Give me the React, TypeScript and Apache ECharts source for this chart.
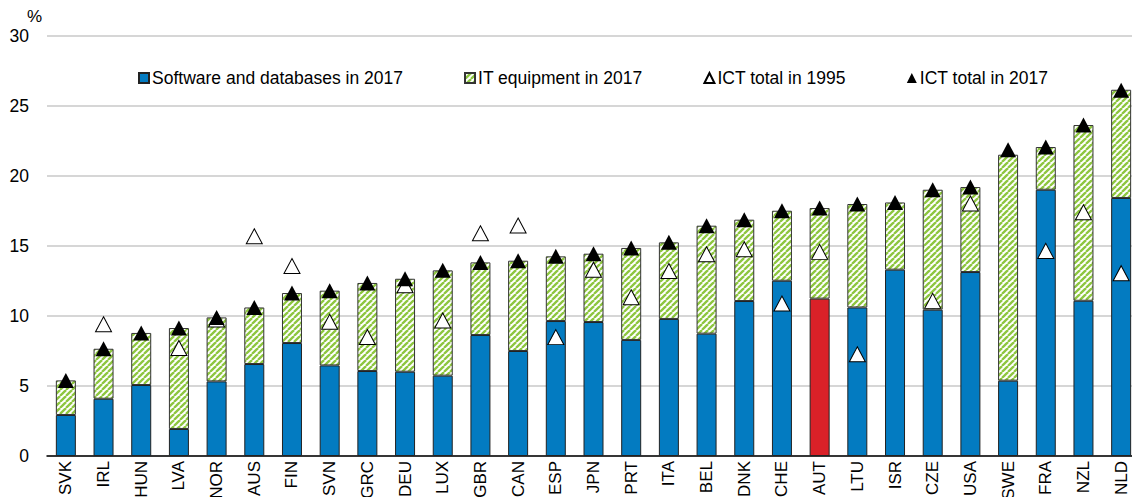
import React, { useEffect, useRef } from "react";
import * as echarts from "echarts";

const categories = ["SVK","IRL","HUN","LVA","NOR","AUS","FIN","SVN","GRC","DEU","LUX","GBR","CAN","ESP","JPN","PRT","ITA","BEL","DNK","CHE","AUT","LTU","ISR","CZE","USA","SWE","FRA","NZL","NLD"];
const software2017 = [2.93,4.09,5.07,1.93,5.33,6.57,8.07,6.47,6.07,6.02,5.74,8.64,7.5,9.64,9.57,8.29,9.79,8.74,11.07,12.52,11.24,10.61,13.31,10.45,13.14,5.38,19.02,11.09,18.43];
const itEquipment2017 = [2.47,3.57,3.72,7.21,4.57,4.04,3.57,5.34,6.29,6.64,7.52,5.19,6.45,4.62,4.88,6.57,5.47,7.71,5.81,5.0,6.47,7.39,4.8,8.57,6.07,16.14,3.05,12.55,7.73];
const ictTotal1995: (number | null)[] = [null,9.41,null,7.72,9.75,15.69,13.57,9.59,8.5,12.2,9.68,15.91,16.46,8.49,13.31,11.34,13.21,14.41,14.77,10.89,14.58,7.27,null,11.08,18.03,null,14.65,17.41,13.06];
const ictTotal2017 = [5.39,7.66,8.79,9.14,9.9,10.61,11.64,11.81,12.36,12.66,13.26,13.83,13.95,14.26,14.45,14.86,15.26,16.45,16.88,17.52,17.71,18.0,18.11,19.02,19.21,21.88,22.07,23.64,26.13];
const yTicks = [0, 5, 10, 15, 20, 25, 30];
const highlight = "AUT";

const FONT = "'Liberation Sans', Arial, sans-serif";
const BLUE = "#037BC1";
const RED = "#DA2128";
const GREEN = "#8DC63F";

function makeHatch(): HTMLCanvasElement {
  const c = document.createElement("canvas");
  c.width = 6;
  c.height = 6;
  const ctx = c.getContext("2d")!;
  ctx.fillStyle = "#ffffff";
  ctx.fillRect(0, 0, 6, 6);
  ctx.strokeStyle = GREEN;
  ctx.lineWidth = 2.3;
  for (const k of [-6, 0, 6]) {
    ctx.beginPath();
    ctx.moveTo(k, 6);
    ctx.lineTo(k + 6, 0);
    ctx.stroke();
  }
  return c;
}

export default function App() {
  const ref = useRef<HTMLDivElement>(null);
  useEffect(() => {
    if (!ref.current) return;
    const chart = echarts.init(ref.current, null, { renderer: "svg" });
    const hatch = { image: makeHatch(), repeat: "repeat" } as any;
    chart.setOption({
      animation: false,
      textStyle: { fontFamily: FONT },
      grid: { left: 47, right: -8, top: 36, bottom: 41, containLabel: false, outerBoundsMode: "none" },
      legend: {
        left: 133,
        top: 64,
        itemWidth: 10,
        itemHeight: 10,
        itemGap: 61,
        selectedMode: false,
        textStyle: { fontSize: 17.5, color: "#000", fontFamily: FONT, padding: [0, 0, 0, -2] },
        data: [
          { name: "Software and databases in 2017", icon: "rect" },
          { name: "IT equipment in 2017", icon: "rect" },
          { name: "ICT total in 1995", icon: "triangle" },
          { name: "ICT total in 2017", icon: "triangle" },
        ],
      },
      graphic: [
        { type: "text", left: 27, top: 8, style: { text: "%", fontSize: 17, fontFamily: FONT, fill: "#000" } },
      ],
      xAxis: {
        type: "category",
        data: categories,
        boundaryGap: true,
        axisLine: { lineStyle: { color: "#000", width: 1.5 } },
        axisTick: { show: false },
        axisLabel: { rotate: 90, fontSize: 17, color: "#000", margin: 5, fontFamily: FONT },
      },
      yAxis: {
        type: "value",
        min: yTicks[0],
        max: yTicks[yTicks.length - 1],
        interval: 5,
        axisLine: { show: false },
        axisTick: { show: false },
        axisLabel: { fontSize: 17.5, color: "#000", margin: 18, fontFamily: FONT },
        splitLine: { lineStyle: { color: "#c8c8c8", width: 1.5 } },
      },
      series: [
        {
          name: "Software and databases in 2017",
          type: "bar",
          stack: "ict",
          barWidth: 20,
          itemStyle: { color: BLUE, borderColor: "#222", borderWidth: 1 },
          data: software2017.map((v, i) =>
            categories[i] === highlight ? { value: v, itemStyle: { color: RED } } : v
          ),
        },
        {
          name: "IT equipment in 2017",
          type: "bar",
          stack: "ict",
          barWidth: 20,
          itemStyle: { color: hatch, borderColor: "#333", borderWidth: 1 },
          data: itEquipment2017,
        },
        {
          name: "ICT total in 1995",
          type: "scatter",
          symbol: "triangle",
          symbolSize: [16, 15],
          z: 3,
          itemStyle: { color: "#fff", borderColor: "#000", borderWidth: 1, opacity: 1 },
          data: ictTotal1995.map((v) => (v === null ? "-" : v)),
        },
        {
          name: "ICT total in 2017",
          type: "scatter",
          symbol: "triangle",
          symbolSize: [16, 15],
          z: 4,
          itemStyle: { color: "#000", opacity: 1 },
          data: ictTotal2017,
        },
      ],
    });
    return () => chart.dispose();
  }, []);
  return (
    <div
      ref={ref}
      style={{ position: "fixed", left: 0, top: 0, width: 1132, height: 497, background: "#fff" }}
    />
  );
}
